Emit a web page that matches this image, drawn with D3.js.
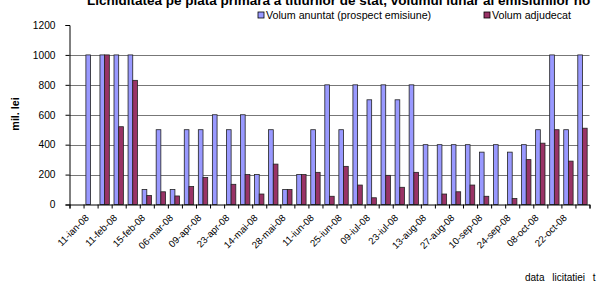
<!DOCTYPE html>
<html>
<head>
<meta charset="utf-8">
<script src="https://cdn.jsdelivr.net/npm/d3@7"></script>
<style>
  html, body { margin: 0; padding: 0; background: #fff; }
  svg { display: block; font-family: Arial, "Liberation Sans", sans-serif; }
</style>
</head>
<body>
<svg id="chart" width="598" height="284"></svg>
<script>
// ---- data ----
const categories = ["", "11-ian-08", "", "11-feb-08", "", "15-feb-08", "", "06-mar-08", "", "09-apr-08",
  "", "23-apr-08", "", "14-mai-08", "", "28-mai-08", "", "11-iun-08", "", "25-iun-08",
  "", "09-iul-08", "", "23-iul-08", "", "13-aug-08", "", "27-aug-08", "", "10-sep-08",
  "", "24-sep-08", "", "08-oct-08", "", "22-oct-08", ""];
const announced = [null, 1000, 1000, 1000, 1000, 100, 500, 100, 500, 500,
  600, 500, 600, 200, 500, 100, 200, 500, 800, 500,
  800, 700, 800, 700, 800, 400, 400, 400, 400, 350,
  400, 350, 400, 500, 1000, 500, 1000];
const awarded = [null, null, 1000, 520, 830, 60, 85, 57, 120, 180,
  null, 135, 200, 70, 270, 100, 200, 215, 55, 255,
  130, 45, 195, 115, 215, null, 70, 85, 130, 55,
  null, 40, 300, 410, 500, 290, 510];
const seriesNames = ["Volum anuntat (prospect emisiune)", "Volum adjudecat"];
const yTicks = [0, 200, 400, 600, 800, 1000, 1200];
const titleText = "Lichiditatea pe piata primara a titlurilor de stat, volumul lunar al emisiunilor no";
const yTitle = "mil. lei";
const xTitle = "data licitatiei t";

// ---- layout ----
const svg = d3.select("#chart");
const pLeft = 69.5, pRight = 589.5, pTop = 25, pBottom = 204.5;
const colors = ["#9999FF", "#993366"];
const idx = d3.range(categories.length);

const x = d3.scaleBand().domain(idx).range([pLeft, pRight]).paddingInner(1/3).paddingOuter(1/6);
const xs = d3.scaleBand().domain([0, 1]).range([0, x.bandwidth()]);
const xEdge = d3.scaleLinear().domain([0, categories.length]).range([pLeft, pRight]);
const y = d3.scaleLinear().domain([0, 1200]).range([pBottom, pTop]);

// gridlines
svg.append("g")
  .selectAll("line").data(yTicks.filter(d => d > 0 && d < 1200)).join("line")
  .attr("x1", pLeft).attr("x2", pRight)
  .attr("y1", d => Math.round(y(d)) + 0.5).attr("y2", d => Math.round(y(d)) + 0.5)
  .attr("stroke", "#777").attr("stroke-width", 1);

// bars
const series = [announced, awarded];
series.forEach((vals, s) => {
  svg.append("g").selectAll("rect")
    .data(idx.filter(i => vals[i] != null && vals[i] > 0))
    .join("rect")
    .attr("x", i => x(i) + xs(s))
    .attr("width", xs.bandwidth())
    .attr("y", i => y(vals[i]))
    .attr("height", i => y(0) - y(vals[i]))
    .attr("fill", colors[s])
    .attr("stroke", "#222")
    .attr("stroke-width", 0.8);
});

// y axis
const yAxis = svg.append("g").attr("transform", `translate(${pLeft},0)`)
  .call(d3.axisLeft(y).tickValues(yTicks).tickSize(4).tickPadding(10).tickFormat(d3.format("d")));
yAxis.select(".domain").attr("stroke", "#000");
yAxis.selectAll(".tick line").attr("stroke", "#000");
yAxis.selectAll("text").attr("font-size", "10.2px").attr("fill", "#000")
  .attr("font-family", "Arial, 'Liberation Sans', sans-serif");

// x axis ticks (category boundaries)
const xAxis = svg.append("g").attr("transform", `translate(0,${pBottom})`)
  .call(d3.axisBottom(xEdge).tickValues(d3.range(0, categories.length + 1)).tickSize(4).tickFormat(""));
xAxis.select(".domain").attr("stroke", "#000");
xAxis.selectAll(".tick line").attr("stroke", "#000");

// x labels
const xLab = svg.append("g").attr("transform", `translate(0,${pBottom})`)
  .call(d3.axisBottom(x).tickValues(idx.filter(i => categories[i] !== "")).tickSize(0).tickFormat(i => categories[i]));
xLab.select(".domain").remove();
xLab.selectAll("text")
  .attr("font-size", "9.6px").attr("fill", "#000")
  .attr("font-family", "Arial, 'Liberation Sans', sans-serif")
  .attr("text-anchor", "end")
  .attr("dy", null).attr("y", 0)
  .attr("transform", "translate(-1,14) rotate(-45)");

// y title
svg.append("text")
  .attr("transform", "translate(19,114) rotate(-90)")
  .attr("text-anchor", "middle")
  .attr("font-size", "10.7px").attr("font-weight", "bold")
  .text(yTitle);

// title
svg.append("text")
  .attr("x", 87).attr("y", 4.5)
  .attr("font-size", "13.5px").attr("font-weight", "bold")
  .text(titleText);

// x title
svg.append("text")
  .attr("x", 525).attr("y", 281)
  .attr("font-size", "10px")
  .attr("word-spacing", "5px")
  .text(xTitle);

// legend
const legendX = [258, 484];
seriesNames.forEach((n, s) => {
  svg.append("rect").attr("x", legendX[s]).attr("y", 12).attr("width", 6).attr("height", 6)
    .attr("fill", colors[s]).attr("stroke", "#000").attr("stroke-width", 0.8);
  svg.append("text").attr("x", legendX[s] + 8).attr("y", 18.5)
    .attr("font-size", "10.7px").text(n);
});
</script>
</body>
</html>
